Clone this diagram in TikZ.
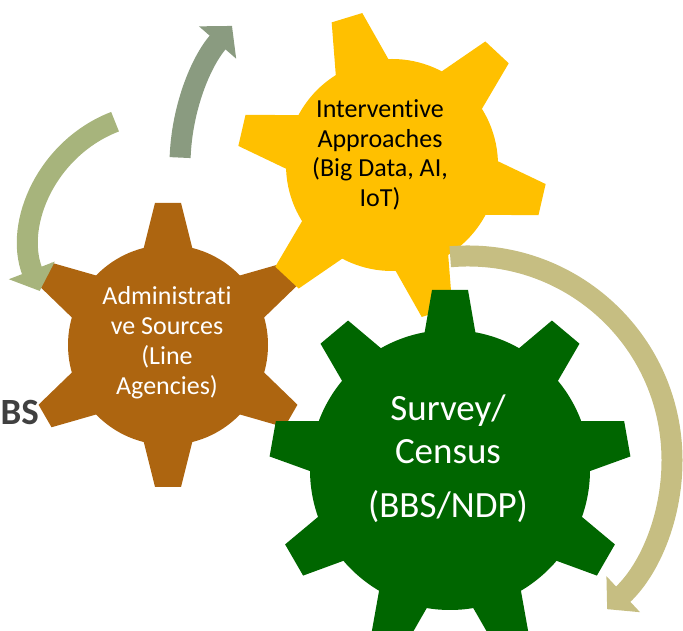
\documentclass[tikz,border=0pt]{standalone}
\usepackage{fontspec}
\setmainfont{Carlito}[Ligatures=NoCommon]
\usetikzlibrary{arrows.meta}
\definecolor{wheelgold}{HTML}{FFC000}
\definecolor{wheelbrown}{HTML}{AD6510}
\definecolor{wheelgreen}{HTML}{006600}
\definecolor{arrowsage}{HTML}{A7B47C}
\definecolor{arrowgrey}{HTML}{8A9B80}
\definecolor{arrowkhaki}{HTML}{C6BE82}
\definecolor{labelgrey}{HTML}{404040}
\tikzset{
	brownwheel/.style={fill=wheelbrown},
	goldwheel/.style={fill=wheelgold},
	greenwheel/.style={fill=wheelgreen},
	cyclearrow/.style={line width=21pt,-{Triangle[length=22pt,width=48pt]}},
}

\begin{document}
\begin{tikzpicture}[x=1pt,y=1pt]
		\useasboundingbox (0,0) rectangle (683,631);
		\coordinate (admin) at (168,286);
		\coordinate (interv) at (392,466);
		\coordinate (survey) at (450,161);
		\coordinate (leftturn) at (162,387);
		\coordinate (rightturn) at (468,171);
		% brown wheel
		\fill[brownwheel] (admin) circle (100);
		\foreach \a in {90,150,...,390}
			\fill[brownwheel,shift={(admin)},rotate=\a] (94,-25) -- (142,-13) -- (142,13) -- (94,25) -- cycle;
		% gold wheel
		\fill[goldwheel] (interv) circle (106);
		\foreach \a in {107,167,...,407}
			\fill[goldwheel,shift={(interv)},rotate=\a] (100,-28) -- (154,-16) -- (154,16) -- (100,28) -- cycle;
		% green wheel
		\fill[greenwheel] (survey) circle (140);
		\foreach \a in {90,130,...,410}
			\fill[greenwheel,shift={(survey)},rotate=\a] (134,-26) -- (180,-18) -- (180,18) -- (134,26) -- cycle;
		\node[text=white,align=center,font=\fontsize{26}{30}\selectfont] (adminlabel) at (167,288) {Administrati\\ve Sources\\(Line\\Agencies)};
		\node[align=center,font=\fontsize{26}{29.5}\selectfont] (intervlabel) at (380,476) {Interventive\\Approaches\\(Big Data, AI,\\IoT)};
		\node[text=white,align=center,font=\fontsize{37}{43}\selectfont] (surveylabel) at (448,172) {Survey/\\Census\\[11pt](BBS/NDP)};
		\node[text=labelgrey,font=\fontsize{37}{44}\selectfont\bfseries,anchor=base west] (cutlabel) at (-3,206) {BS};
		% arrows
		\draw[cyclearrow,arrowsage] (leftturn) ++(111:131) arc[start angle=111,end angle=201,radius=131];
		\draw[cyclearrow,arrowgrey] (interv) ++(178:212) arc[start angle=178,end angle=139,radius=212];
		\draw[cyclearrow,arrowkhaki] (rightturn) ++(95:204) arc[start angle=95,end angle=-47,radius=204];
	\end{tikzpicture}
\end{document}
